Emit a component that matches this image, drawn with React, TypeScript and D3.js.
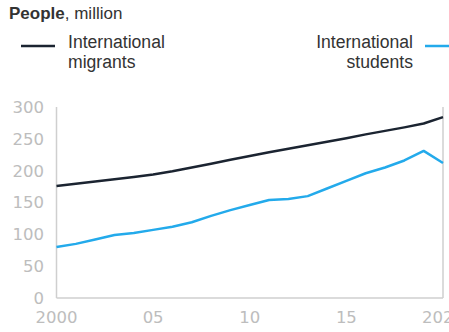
import React from "react";
import * as d3 from "d3";

const years = [2000,2001,2002,2003,2004,2005,2006,2007,2008,2009,2010,2011,2012,2013,2014,2015,2016,2017,2018,2019,2020];
const migrants = [176,179.5,183,186.5,190,194,199,205,211,217,223,229,234.5,240,245.5,251,257,262.5,268,274,284];
const students = [80,85,92,99,102,107,112,119,129,138,146,154,155.5,160,172,184,196,205,216,231,212];
const yTicks = [0,50,100,150,200,250,300];
const xTicks = [2000,2005,2010,2015,2020];
const xTickLabels = ["2000","05","10","15","2020"];

const W = 449, H = 332;

export default function App() {
  const x = d3.scaleLinear().domain([2000, 2020]).range([56.5, 443]);
  const y = d3.scaleLinear().domain([0, 300]).range([298, 107]);
  const line = d3.line<number>().x((_, i) => x(years[i])).y(d => y(d));
  const axisColor = "#cfcfcf";
  const tickColor = "#bdbdbd";
  const ff = "Liberation Sans, Arial, sans-serif";
  return (
    <svg width={W} height={H} style={{ position: "absolute", left: 0, top: 0, background: "#fff" }}>
      <text x={9} y={19} fontFamily={ff} fontSize={17} fill="#333">
        <tspan fontWeight="bold">People</tspan>
        <tspan>, million</tspan>
      </text>
      {/* legends */}
      <line x1={21} x2={55} y1={46} y2={46} stroke="#1b2431" strokeWidth={2.5} />
      <text x={68} y={48} fontFamily={ff} fontSize={17.6} fill="#333">International</text>
      <text x={68} y={68} fontFamily={ff} fontSize={17.6} fill="#333">migrants</text>
      <line x1={425} x2={452} y1={46} y2={46} stroke="#23aaeb" strokeWidth={2.5} />
      <text x={413} y={48} textAnchor="end" fontFamily={ff} fontSize={17.6} fill="#333">International</text>
      <text x={413} y={68} textAnchor="end" fontFamily={ff} fontSize={17.6} fill="#333">students</text>
      {/* axes */}
      <line x1={x(2000)} x2={x(2000)} y1={y(300)} y2={y(0)} stroke={axisColor} strokeWidth={1.5} />
      <line x1={x(2020)} x2={x(2020)} y1={y(300)} y2={y(0)} stroke={axisColor} strokeWidth={1.5} />
      <line x1={x(2000)} x2={x(2020)} y1={y(0)} y2={y(0)} stroke={axisColor} strokeWidth={1.5} />
      {yTicks.map(t => (
        <text key={t} x={44} y={y(t)} dy="0.36em" textAnchor="end" fontFamily="DejaVu Sans, sans-serif" fontSize={16.5} fill={tickColor}>{t}</text>
      ))}
      {xTicks.map((t, i) => (
        <text key={t} x={x(t)} y={323} textAnchor="middle" fontFamily="DejaVu Sans, sans-serif" fontSize={16.5} fill={tickColor}>{xTickLabels[i]}</text>
      ))}
      <path d={line(migrants) || ""} fill="none" stroke="#1b2431" strokeWidth={2.5} strokeLinejoin="round" />
      <path d={line(students) || ""} fill="none" stroke="#23aaeb" strokeWidth={2.5} strokeLinejoin="round" />
    </svg>
  );
}
